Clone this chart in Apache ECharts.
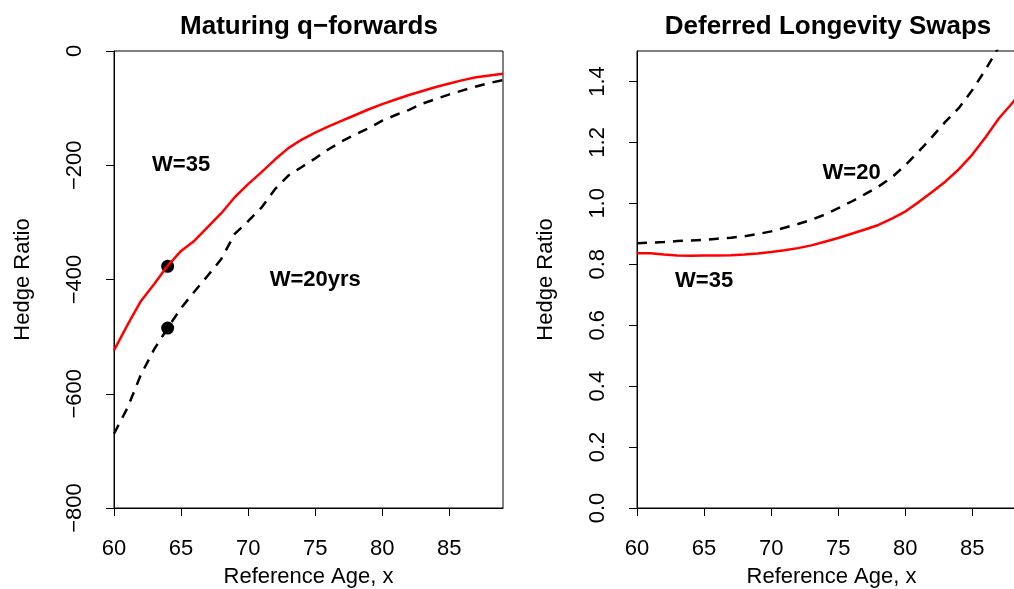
<!DOCTYPE html>
<html>
<head>
<meta charset="utf-8">
<script src="https://cdn.jsdelivr.net/npm/echarts@6/dist/echarts.min.js"></script>
<style>html,body{margin:0;padding:0;background:#fff;}#c{width:1014px;height:589px;}</style>
</head>
<body>
<div id="c"></div>
<script>
// ---- data ----
const ages = [60,61,62,63,64,65,66,67,68,69,70,71,72,73,74,75,76,77,78,79,80,81,82,83,84,85,86,87,88,89];
// Maturing q-forwards
const qfW35 = [-524,-480,-438,-408,-376,-350,-332,-308,-284,-256,-233,-212,-190,-170,-155,-143,-132,-122,-112,-102,-93,-85,-77,-70,-63,-57,-51,-46,-43,-40];
const qfW20 = [-670,-625,-567,-522,-485,-450,-421,-393,-364,-320,-298,-274,-242,-218,-203,-188,-172,-158,-146,-135,-122,-112,-103,-92,-84,-76,-69,-62,-56,-51];
const qfDotAges = [64, 64];
const qfDotVals = [-377, -485];
// Deferred longevity swaps
const dlsW35 = [0.836,0.836,0.832,0.829,0.828,0.829,0.829,0.830,0.832,0.835,0.840,0.846,0.853,0.862,0.874,0.886,0.900,0.914,0.929,0.950,0.973,1.004,1.037,1.072,1.112,1.160,1.218,1.280,1.330,1.390];
const dlsW20 = [0.869,0.871,0.873,0.876,0.878,0.880,0.884,0.887,0.892,0.899,0.908,0.920,0.932,0.946,0.963,0.984,1.006,1.030,1.055,1.085,1.125,1.170,1.218,1.268,1.313,1.372,1.440,1.515,1.590,1.670];
// tick labels
const xTicks = [60,65,70,75,80,85];
const yTicksLeft = [-800,-600,-400,-200,0];
const yTicksRight = [0,0.2,0.4,0.6,0.8,1.0,1.2,1.4];
// annotations
const leftNotes = [[65,-200,'W=35'],[75,-400,'W=20yrs']];
const rightNotes = [[76,1.10,'W=20'],[65,0.745,'W=35']];

const FONT = '"Liberation Sans", Arial, Helvetica, sans-serif';
const pairs = (xs, ys) => xs.map((x,i)=>[x, ys[i]]);
const minus = v => String(v).replace('-', '\u2212');

function xAxis(gi){
  return {
    type:'value', gridIndex:gi, min:60, max:89,
    name:'Reference Age, x', nameLocation:'middle', nameGap:58,
    nameTextStyle:{fontFamily:FONT, fontSize:22, color:'#000'},
    axisLine:{show:true, onZero:false, lineStyle:{color:'#000', width:1}},
    axisTick:{show:true, inside:false, length:8, customValues:xTicks, lineStyle:{color:'#000', width:1}},
    axisLabel:{show:true, customValues:xTicks, margin:30, fontFamily:FONT, fontSize:22, color:'#000'},
    splitLine:{show:false}
  };
}
function yAxis(gi, min, max, ticks, fmt){
  return {
    type:'value', gridIndex:gi, min:min, max:max,
    name:'Hedge Ratio', nameLocation:'middle', nameGap:80,
    nameTextStyle:{fontFamily:FONT, fontSize:22, color:'#000'},
    axisLine:{show:true, onZero:false, lineStyle:{color:'#000', width:1}},
    axisTick:{show:true, inside:false, length:8, customValues:ticks, lineStyle:{color:'#000', width:1}},
    axisLabel:{show:true, customValues:ticks, rotate:90, margin:28, fontFamily:FONT, fontSize:22, color:'#000', formatter:fmt},
    splitLine:{show:false}
  };
}
function notes(gi, arr){
  return {
    type:'scatter', xAxisIndex:gi, yAxisIndex:gi, symbolSize:1,
    itemStyle:{color:'rgba(0,0,0,0)', opacity:1}, silent:true,
    data: arr.map(a=>({value:[a[0],a[1]], name:a[2]})),
    label:{show:true, position:'inside', formatter:p=>p.name, fontFamily:FONT, fontSize:22, fontWeight:'bold', color:'#000', opacity:1}
  };
}

const chart = echarts.init(document.getElementById('c'), null, {renderer:'canvas'});
chart.setOption({
  animation:false,
  backgroundColor:'#fff',
  title:[
    {text:'Maturing q\u2212forwards', left:304, top:9, textAlign:'center', textStyle:{fontFamily:FONT, fontSize:26, fontWeight:'bold', color:'#000'}},
    {text:'Deferred Longevity Swaps', left:823, top:9, textAlign:'center', textStyle:{fontFamily:FONT, fontSize:26, fontWeight:'bold', color:'#000'}}
  ],
  grid:[
    {left:114, top:51, width:389, height:457, outerBoundsMode:'none', containLabel:false, show:true, borderColor:'#000', borderWidth:1, backgroundColor:'transparent'},
    {left:637, top:51, width:389, height:457, outerBoundsMode:'none', containLabel:false, show:true, borderColor:'#000', borderWidth:1, backgroundColor:'transparent'}
  ],
  xAxis:[xAxis(0), xAxis(1)],
  yAxis:[
    yAxis(0, -800, 0, yTicksLeft, v=>minus(v)),
    yAxis(1, 0, 1.5, yTicksRight, v=>Number(v).toFixed(1))
  ],
  series:[
    {type:'line', xAxisIndex:0, yAxisIndex:0, data:pairs(ages, qfW35), showSymbol:false, symbol:'none', lineStyle:{color:'#ff0000', width:2.5}},
    {type:'line', xAxisIndex:0, yAxisIndex:0, data:pairs(ages, qfW20), showSymbol:false, symbol:'none', lineStyle:{color:'#000', width:2.5, type:[10,8]}},
    {type:'scatter', xAxisIndex:0, yAxisIndex:0, data:pairs(qfDotAges, qfDotVals), symbolSize:13, itemStyle:{color:'#000', opacity:1}},
    notes(0, leftNotes),
    {type:'line', xAxisIndex:1, yAxisIndex:1, data:pairs(ages, dlsW35), showSymbol:false, symbol:'none', lineStyle:{color:'#ff0000', width:2.5}},
    {type:'line', xAxisIndex:1, yAxisIndex:1, data:pairs(ages, dlsW20), showSymbol:false, symbol:'none', lineStyle:{color:'#000', width:2.5, type:[10,8]}},
    notes(1, rightNotes)
  ]
});
</script>
</body>
</html>
